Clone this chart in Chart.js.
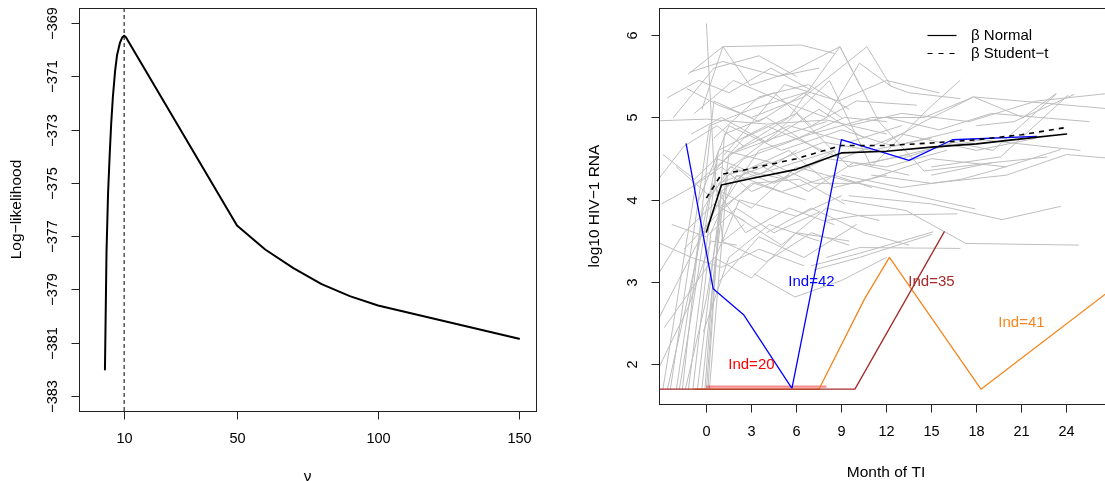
<!DOCTYPE html>
<html>
<head>
<meta charset="utf-8">
<script src="https://cdn.jsdelivr.net/npm/chart.js@4.4.1/dist/chart.umd.min.js"></script>
<style>
  html, body { margin: 0; padding: 0; overflow: hidden; background: #fff; width: 1105px; height: 481px; }
  #llChart { position: absolute; left: 0; top: 0; }
  #rnaChart { position: absolute; left: 552px; top: 0; }
</style>
</head>
<body>
<canvas id="llChart" width="552" height="481"></canvas>
<canvas id="rnaChart" width="580" height="481"></canvas>
<script>
// ---------- Left panel: profile log-likelihood of the degrees of freedom ----------
const nuGrid = [3.2, 3.75, 4.3, 4.9, 5.4, 6.0, 6.8, 7.5, 8.5, 9.3, 10.0, 10.5, 11.0, 50, 60, 70, 80, 90, 100, 150];
const logLik = [-382.0, -377.6, -375.4, -373.9, -372.8, -371.8, -370.8, -370.2, -369.75, -369.55, -369.48, -369.52, -369.6, -376.6, -377.5, -378.2, -378.8, -379.25, -379.6, -380.85];
const nuHat = 10;
const nuTicks = [10, 50, 100, 150];
const logLikTicks = [-383, -381, -379, -377, -375, -373, -371, -369];
const nuRange = [-6, 156];
const logLikRange = [-383.56, -368.44];

// ---------- Right panel: viral load trajectories ----------
const monthTicks = [0, 3, 6, 9, 12, 15, 18, 21, 24];
const rnaTicks = [2, 3, 4, 5, 6];
const monthRange = [-3.16, 27.1];
const rnaRange = [1.52, 6.33];

const meanMonths = [0, 1, 3, 6, 9, 12, 15, 18, 21, 24];
const betaNormal = [3.61, 4.18, 4.26, 4.37, 4.57, 4.59, 4.64, 4.68, 4.74, 4.80];
const betaStudent = [4.02, 4.31, 4.38, 4.50, 4.66, 4.66, 4.69, 4.73, 4.79, 4.88];

const ind20Months = [0, 8.0];
const ind20Values = [1.73, 1.73];
const ind42Months = [-1.35, 0.45, 2.5, 5.7, 9.0, 13.5, 16.4, 22.0];
const ind42Values = [4.68, 2.92, 2.6, 1.71, 4.73, 4.48, 4.73, 4.77];
const ind35Months = [-3.2, 9.9, 15.85];
const ind35Values = [1.7, 1.7, 3.61];
const ind41Months = [-0.8, 7.5, 10.55, 12.2, 18.3, 27.2];
const ind41Values = [1.7, 1.7, 2.8, 3.3, 1.7, 2.94];

const indLabels = ['Ind=20', 'Ind=42', 'Ind=35', 'Ind=41'];
const indLabelMonths = [3, 7, 15, 21];
const indLabelValues = [2.0, 3.0, 3.0, 2.5];
const indColors = ['#ff0000', '#0000ff', '#a52a2a', '#f5861f'];

// other subjects, each as [month, log10 RNA] pairs
const grayTraces = [
  [[-2.9,1.7],[-0.7,4.2],[2.0,4.6],[5.5,4.9],[9.5,4.7],[13,4.9]],
  [[-2.4,1.7],[0.2,4.9],[3.0,5.1],[6.5,5.3],[9.0,5.0]],
  [[-2.0,1.7],[-0.2,3.9],[1.6,4.4],[4.5,4.2],[8.0,4.5],[12,4.4],[16,4.6]],
  [[-1.6,1.7],[0.5,5.2],[3.5,4.95],[7.0,5.35]],
  [[-1.2,1.7],[0.8,4.6],[4.0,4.9],[9.0,4.5],[13,4.8],[18,4.6],[22,4.75]],
  [[-0.9,1.7],[0.3,3.6],[2.0,4.3],[5.0,4.1],[8.5,4.3],[11,4.15]],
  [[-0.6,1.7],[1.0,4.1],[3.0,3.9],[6.0,4.4],[10,4.2],[15,4.5],[20,4.4]],
  [[-0.3,1.7],[0.6,3.3],[2.2,4.0],[6.0,3.8],[9,4.05]],
  [[0.1,1.7],[1.2,4.8],[4.0,5.0],[7.5,4.6]],
  [[-2.6,1.7],[-1.0,3.0],[0.7,4.5],[3.5,4.3],[6,4.6]],
  [[0.0,1.7],[0.9,3.9],[3.5,4.6],[7.0,4.8],[11,5.0],[14.5,5.0],[17.8,5.25],[27.2,5.1]],
  [[-1.8,1.7],[0.4,4.2],[2.6,3.6],[5.5,3.9],[8.5,3.7]],
  [[-0.1,1.7],[0.4,2.9],[1.5,4.55],[4.5,4.75],[8,4.95]],
  [[-1.4,1.7],[0.0,2.8],[1.0,3.9],[3.2,4.2],[6.6,4.0]],
  [[0.2,1.7],[1.4,4.3],[4.2,4.45],[7.2,4.2],[10.2,4.2],[17.9,3.89]],
  [[-3.2,4.96],[0,4.98],[4,4.92],[8,4.97],[12,4.8]],
  [[-3.2,2.55],[-0.8,3.4],[1.5,4.2],[5,4.4],[8.5,4.6]],
  [[-3.2,3.48],[-1,3.3],[1,3.18],[3.5,3.4],[6.5,3.2]],
  [[-2.8,2.45],[0.5,3.3],[3,3.05],[6,3.6],[9.5,3.5]],
  [[-2.6,5.24],[-0.5,5.45],[1.5,5.3],[4.3,5.6],[6.8,5.35]],
  [[-2.0,4.4],[0.2,4.05],[2.5,4.5],[5.5,4.7],[9.2,5.0],[12,4.95]],
  [[-3.0,3.95],[-1.0,4.15],[1.0,4.4],[3.0,4.1],[5.5,4.3]],
  [[-2.3,3.7],[0,3.55],[2,3.9],[4.5,3.6],[7.5,3.85]],
  [[-3.2,3.1],[-1.5,3.6],[0.5,3.95],[2.5,3.75]],
  [[-2.9,4.55],[-0.8,4.25],[1.2,4.6],[4.4,4.45],[7.8,4.7],[11,4.6],[15,4.75]],
  [[-3.2,1.95],[-1.2,2.7],[0.3,3.5],[2.0,3.45]],
  [[0,6.14],[0.5,4.4],[1.1,3.5],[2.5,3.7]],
  [[-1.2,5.53],[1.1,5.86],[2.9,5.39],[5.6,5.55],[8.9,5.86],[10.2,5.4]],
  [[-0.3,5.1],[1.1,5.86],[6.3,5.88],[8.5,5.78]],
  [[-1.1,5.55],[1.1,5.68],[4.8,5.5],[7.5,5.6]],
  [[-1.3,5.35],[0.8,5.15],[3.0,5.0],[6.5,5.25],[10.7,5.86],[12.3,5.38],[13.5,5.3],[16.9,5.23]],
  [[2.0,4.6],[5.5,5.0],[8.9,5.86],[11.5,4.95],[14.5,4.35],[19,4.45]],
  [[0.5,4.75],[3.5,5.25],[6.8,5.4],[9.5,5.1]],
  [[-0.8,5.05],[1.8,5.45],[5.0,5.2],[8.0,5.0],[10.2,5.66],[12.3,5.38]],
  [[1.3,4.35],[4.6,4.8],[8.2,5.45],[11,4.4],[14.7,5.09],[16.9,5.45]],
  [[12.0,4.7],[14.5,4.95],[17.8,5.25],[21.1,5.0],[23.3,5.29]],
  [[13,4.5],[16.5,4.7],[19.1,4.6],[23.3,5.28]],
  [[15,4.4],[19.6,4.52],[24.1,5.27]],
  [[11,4.45],[14.5,4.6],[18.4,4.73],[24.9,4.6]],
  [[9,4.3],[13,4.15],[17.0,4.25],[19.2,4.36],[23.6,4.61]],
  [[9.5,4.05],[15,3.95],[19.7,3.76],[23.6,3.92]],
  [[9,4.0],[13.3,3.87],[17.3,3.47],[24.8,3.45]],
  [[8,3.75],[10.2,3.81],[16.7,3.83]],
  [[7,3.2],[10.2,3.35],[15.1,3.61]],
  [[7.2,3.15],[10.2,3.3],[15.0,3.58]],
  [[8,3.3],[10.2,3.42],[16.9,3.41]],
  [[15,4.3],[19,4.45],[22.7,4.52]],
  [[18,4.9],[20.5,4.95],[24.5,5.28]],
  [[12,5.0],[15.5,4.85],[19,5.05],[25.5,4.95]],
  [[3.2,3.1],[5.9,2.82],[9.0,3.02],[12,3.3]],
  [[1.0,3.5],[4.0,3.25],[7.0,3.6],[9.5,3.45]],
  [[0.8,3.0],[3.5,3.55],[6.5,3.3],[10,3.7]],
  [[2.0,3.8],[5.0,3.45],[8.0,3.9],[11.5,3.75]],
  [[-0.5,4.0],[1.5,4.9],[5.0,4.6],[9.0,4.85],[12.5,4.65],[17,4.85]],
  [[0.3,4.3],[2.5,4.75],[6.0,5.05],[9.5,4.4],[13.5,4.55]],
  [[-1.0,4.8],[1.0,5.0],[4.0,4.7],[7.5,5.1],[10.5,4.75]],
  [[1.5,5.1],[4.5,5.3],[7.0,4.9],[10.0,5.2],[14,5.15]],
  [[-2.2,5.0],[0.5,5.6],[3.5,5.75],[6.0,5.5]],
  [[2.5,4.35],[5.5,4.6],[8.5,4.15],[12,4.3]],
  [[0.8,4.2],[3.8,4.4],[6.8,4.1],[9.8,4.45],[13.5,4.3]],
  [[-1.5,3.4],[0.6,3.8],[3.0,4.2],[6.2,4.25],[9.2,3.95]],
  [[4.0,3.6],[7.0,3.9],[10.5,3.6],[13.5,3.45]],
  [[-0.2,2.4],[1.5,3.3],[4.2,3.7],[7.5,3.5]],
  [[1.2,4.55],[5.2,5.4],[8.8,5.2],[12,5.45],[15.5,5.3]],
  [[9.5,4.9],[13,5.05],[17.5,4.95],[22,5.2],[27.2,5.3]],
  [[11,4.3],[15,4.2],[20,4.3],[24,4.55],[27.2,4.5]],
  [[-3.2,4.25],[-1.5,4.65],[0.7,4.9],[2.5,4.65]],
  [[0.6,4.05],[2.8,4.35],[5.2,4.25],[8.6,4.6]]
];

const legendLabels = ['\u03B2 Normal', '\u03B2 Student\u2212t'];

// ---------- helpers ----------
const FONT = '"Liberation Sans", Arial, Helvetica, sans-serif';
const minus = v => String(v).replace('-', '\u2212');
const pts = (xs, ys) => xs.map((x, i) => ({ x, y: ys[i] }));

// R-style frame: box, outward ticks, vertical y tick labels and axis titles
function framePlugin(opt) {
  return {
    id: 'frame',
    afterDraw(chart) {
      const ctx = chart.ctx, a = chart.chartArea;
      const xs = chart.scales.x, ys = chart.scales.y;
      ctx.save();
      ctx.strokeStyle = '#222';
      ctx.lineWidth = 1;
      const L = Math.round(a.left) + 0.5, T = Math.round(a.top) + 0.5;
      const R = Math.round(a.right) + 0.5, B = Math.round(a.bottom) + 0.5;
      ctx.strokeRect(L, T, R - L, B - T);
      ctx.fillStyle = '#000';
      ctx.font = '14.5px ' + FONT;
      ctx.textAlign = 'center';
      ctx.textBaseline = 'middle';
      opt.xTicks.forEach(v => {
        const px = Math.round(xs.getPixelForValue(v)) + 0.5;
        ctx.beginPath(); ctx.moveTo(px, B); ctx.lineTo(px, B + 8); ctx.stroke();
        ctx.fillText(minus(v), px, a.bottom + 27.5);
      });
      opt.yTicks.forEach(v => {
        const py = Math.round(ys.getPixelForValue(v)) + 0.5;
        ctx.beginPath(); ctx.moveTo(L, py); ctx.lineTo(L - 8, py); ctx.stroke();
        ctx.save();
        ctx.translate(a.left - 26, py);
        ctx.rotate(-Math.PI / 2);
        ctx.fillText(minus(v), 0, 0);
        ctx.restore();
      });
      ctx.font = '15.5px ' + FONT;
      ctx.textBaseline = 'alphabetic';
      ctx.fillText(opt.xTitle, (a.left + opt.titleRight) / 2, a.bottom + opt.xTitleDrop);
      ctx.textBaseline = 'middle';
      ctx.save();
      ctx.translate(a.left - opt.yTitleGap, (a.top + a.bottom) / 2);
      ctx.rotate(-Math.PI / 2);
      ctx.fillText(opt.yTitle, 0, 0);
      ctx.restore();
      ctx.restore();
    }
  };
}

const baseOptions = (xr, yr, padding) => ({
  responsive: false,
  animation: false,
  devicePixelRatio: 1,
  events: [],
  layout: { padding },
  plugins: { legend: { display: false }, tooltip: { enabled: false } },
  elements: { point: { radius: 0 }, line: { tension: 0, borderCapStyle: 'round', borderJoinStyle: 'round' } },
  scales: {
    x: { type: 'linear', min: xr[0], max: xr[1], display: false },
    y: { type: 'linear', min: yr[0], max: yr[1], display: false }
  }
});

// ---------- left chart ----------
new Chart(document.getElementById('llChart'), {
  type: 'line',
  data: {
    datasets: [
      { data: pts(nuGrid, logLik), borderColor: '#000', borderWidth: 2, fill: false },
      { data: pts([nuHat, nuHat], logLikRange), borderColor: '#000', borderWidth: 1, borderDash: [4, 3], borderCapStyle: 'butt', fill: false }
    ]
  },
  options: baseOptions(nuRange, logLikRange, { left: 79, top: 8, right: 16, bottom: 70 }),
  plugins: [framePlugin({
    xTicks: nuTicks, yTicks: logLikTicks,
    xTitle: '\u03BD', yTitle: 'Log\u2212likelihood',
    xTitleDrop: 69.5, yTitleGap: 62, titleRight: 536
  })]
});

// ---------- right chart ----------
const rnaDatasets = grayTraces.map(tr => ({
  data: tr.map(p => ({ x: p[0], y: p[1] })),
  borderColor: '#bebebe', borderWidth: 1, fill: false, order: 3
}));
rnaDatasets.push(
  { data: pts(ind35Months, ind35Values), borderColor: indColors[2], borderWidth: 1.3, fill: false, order: 2 },
  { data: pts(ind41Months, ind41Values), borderColor: indColors[3], borderWidth: 1.3, fill: false, order: 2 },
  { data: pts(ind42Months, ind42Values), borderColor: indColors[1], borderWidth: 1.3, fill: false, order: 2 },
  { data: pts(ind20Months, ind20Values), borderColor: 'rgba(240,0,0,0.45)', borderWidth: 2.2, borderCapStyle: 'butt', fill: false, order: 2 },
  { data: pts(meanMonths, betaStudent), borderColor: '#000', borderWidth: 1.6, borderDash: [5, 5], borderCapStyle: 'butt', fill: false, order: 1 },
  { data: pts(meanMonths, betaNormal), borderColor: '#000', borderWidth: 1.6, fill: false, order: 1 }
);

const annotatePlugin = {
  id: 'annotate',
  afterDraw(chart) {
    const ctx = chart.ctx, a = chart.chartArea;
    const xs = chart.scales.x, ys = chart.scales.y;
    ctx.save();
    ctx.font = '15px ' + FONT;
    ctx.textAlign = 'center';
    ctx.textBaseline = 'middle';
    indLabels.forEach((t, i) => {
      ctx.fillStyle = indColors[i];
      ctx.fillText(t, xs.getPixelForValue(indLabelMonths[i]), ys.getPixelForValue(indLabelValues[i]));
    });
    // legend
    const lx = a.left + 268.5, ly = a.top + 27;
    ctx.strokeStyle = '#000';
    ctx.lineWidth = 1.2;
    [[], [5, 6]].forEach((dash, i) => {
      const y = Math.round(ly + i * 18.3) + 0.5;
      ctx.setLineDash(dash);
      ctx.beginPath(); ctx.moveTo(lx, y); ctx.lineTo(lx + 29, y); ctx.stroke();
      ctx.setLineDash([]);
      ctx.fillStyle = '#000';
      ctx.textAlign = 'left';
      ctx.fillText(legendLabels[i], lx + 43.5, y);
    });
    ctx.restore();
  }
};

new Chart(document.getElementById('rnaChart'), {
  type: 'line',
  data: { datasets: rnaDatasets },
  options: baseOptions(monthRange, rnaRange, { left: 107, top: 8, right: 19, bottom: 77 }),
  plugins: [framePlugin({
    xTicks: monthTicks, yTicks: rnaTicks,
    xTitle: 'Month of TI', yTitle: 'log10 HIV\u22121 RNA',
    xTitleDrop: 72.7, yTitleGap: 64.5, titleRight: 561
  }), annotatePlugin]
});
</script>
</body>
</html>
